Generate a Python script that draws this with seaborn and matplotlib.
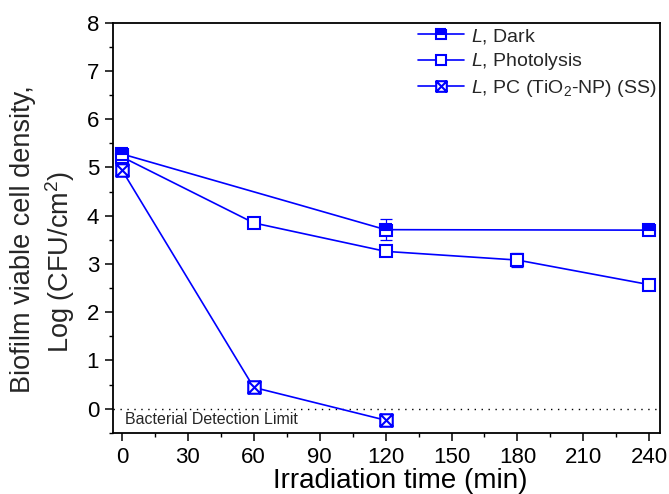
import numpy as np
import matplotlib.pyplot as plt
import seaborn as sns
from matplotlib.path import Path
from matplotlib.ticker import MultipleLocator

sns.set_theme(style="ticks")
plt.rcParams['font.family'] = ['Liberation Sans', 'DejaVu Sans']
plt.rcParams['mathtext.fontset'] = 'custom'
plt.rcParams['mathtext.rm'] = 'Liberation Sans'
plt.rcParams['mathtext.it'] = 'Liberation Sans:italic'
plt.rcParams['mathtext.default'] = 'regular'

# data
t_dark = [0, 120, 240]
dark = [5.28, 3.71, 3.70]
dark_err = [0.07, 0.22, 0.06]

t_photo = [0, 60, 120, 180, 240]
photo = [5.22, 3.85, 3.26, 3.08, 2.57]
photo_err = [0.05, 0.08, 0.08, 0.15, 0.05]

t_pc = [0, 60, 120]
pc = [4.95, 0.44, -0.24]
pc_err = [0.08, 0.1, 0.04]

blue = "#0000FF"

# boxed-x marker
boxx = Path(
    [(-1, -1), (1, -1), (1, 1), (-1, 1), (-1, -1), (-1, -1), (1, 1), (-1, 1), (1, -1)],
    [Path.MOVETO, Path.LINETO, Path.LINETO, Path.LINETO, Path.CLOSEPOLY,
     Path.MOVETO, Path.LINETO, Path.MOVETO, Path.LINETO])

fig, ax = plt.subplots(figsize=(6.69, 4.94), dpi=100)
fig.subplots_adjust(left=0.169, right=0.987, bottom=0.124, top=0.954)

ax.axhline(0, color="black", lw=1, ls=(0, (1, 4)), zorder=1)
ax.text(1.5, -0.23, "Bacterial Detection Limit", fontsize=11.5, va="center", ha="left")

series = [
    (t_dark, dark, dark_err, dict(marker="s", fillstyle="top", markerfacecolor=blue,
                                  markerfacecoloralt="white"), r"$\it{L}$, Dark", 6),
    (t_photo, photo, photo_err, dict(marker="s", markerfacecolor="white"),
     r"$\it{L}$, Photolysis", 5),
    (t_pc, pc, pc_err, dict(marker=boxx, markerfacecolor="white"),
     r"$\it{L}$, PC (TiO$_2$-NP) (SS)", 4),
]

for x, y, e, mk, lab, z in series:
    ax.errorbar(x, y, yerr=e, fmt="none", ecolor=blue, elinewidth=0.9, capsize=4,
                capthick=0.9, zorder=2)
    sns.lineplot(x=x, y=y, ax=ax, color=blue, lw=1.2, markersize=9,
                 markeredgecolor=blue, markeredgewidth=1.5, label=lab, zorder=z, **mk)

ax.set_xlim(-4, 245)
ax.set_ylim(-0.5, 8)
ax.xaxis.set_major_locator(MultipleLocator(30))
ax.xaxis.set_minor_locator(MultipleLocator(15))
ax.yaxis.set_major_locator(MultipleLocator(1))
ax.yaxis.set_minor_locator(MultipleLocator(0.5))
ax.tick_params(which="major", direction="out", length=6, width=1.1, labelsize=16,
               color="black", labelcolor="black", pad=4)
ax.tick_params(which="minor", direction="out", length=3, width=1.0, color="black")
for s in ax.spines.values():
    s.set_color("black")
    s.set_linewidth(1.3)

ax.set_xlabel("Irradiation time (min)", fontsize=20, color="black")
ax.xaxis.set_label_coords(0.525, -0.085)
ax.set_ylabel("")
fig.text(23 / 669, 1 - 239 / 494, "Biofilm viable cell density,", rotation=90,
         fontsize=19.5, ha="center", va="center")
fig.text(60 / 669, 1 - 262 / 494, "Log (CFU/cm$^{2}$)", rotation=90,
         fontsize=19.5, ha="center", va="center")

ax.legend(loc="upper right", frameon=False, fontsize=14, markerscale=0.85,
          handlelength=2.35, handletextpad=0.35, labelspacing=0.3,
          borderaxespad=0.1, borderpad=0.1)

fig.savefig("out.png", dpi=100)
